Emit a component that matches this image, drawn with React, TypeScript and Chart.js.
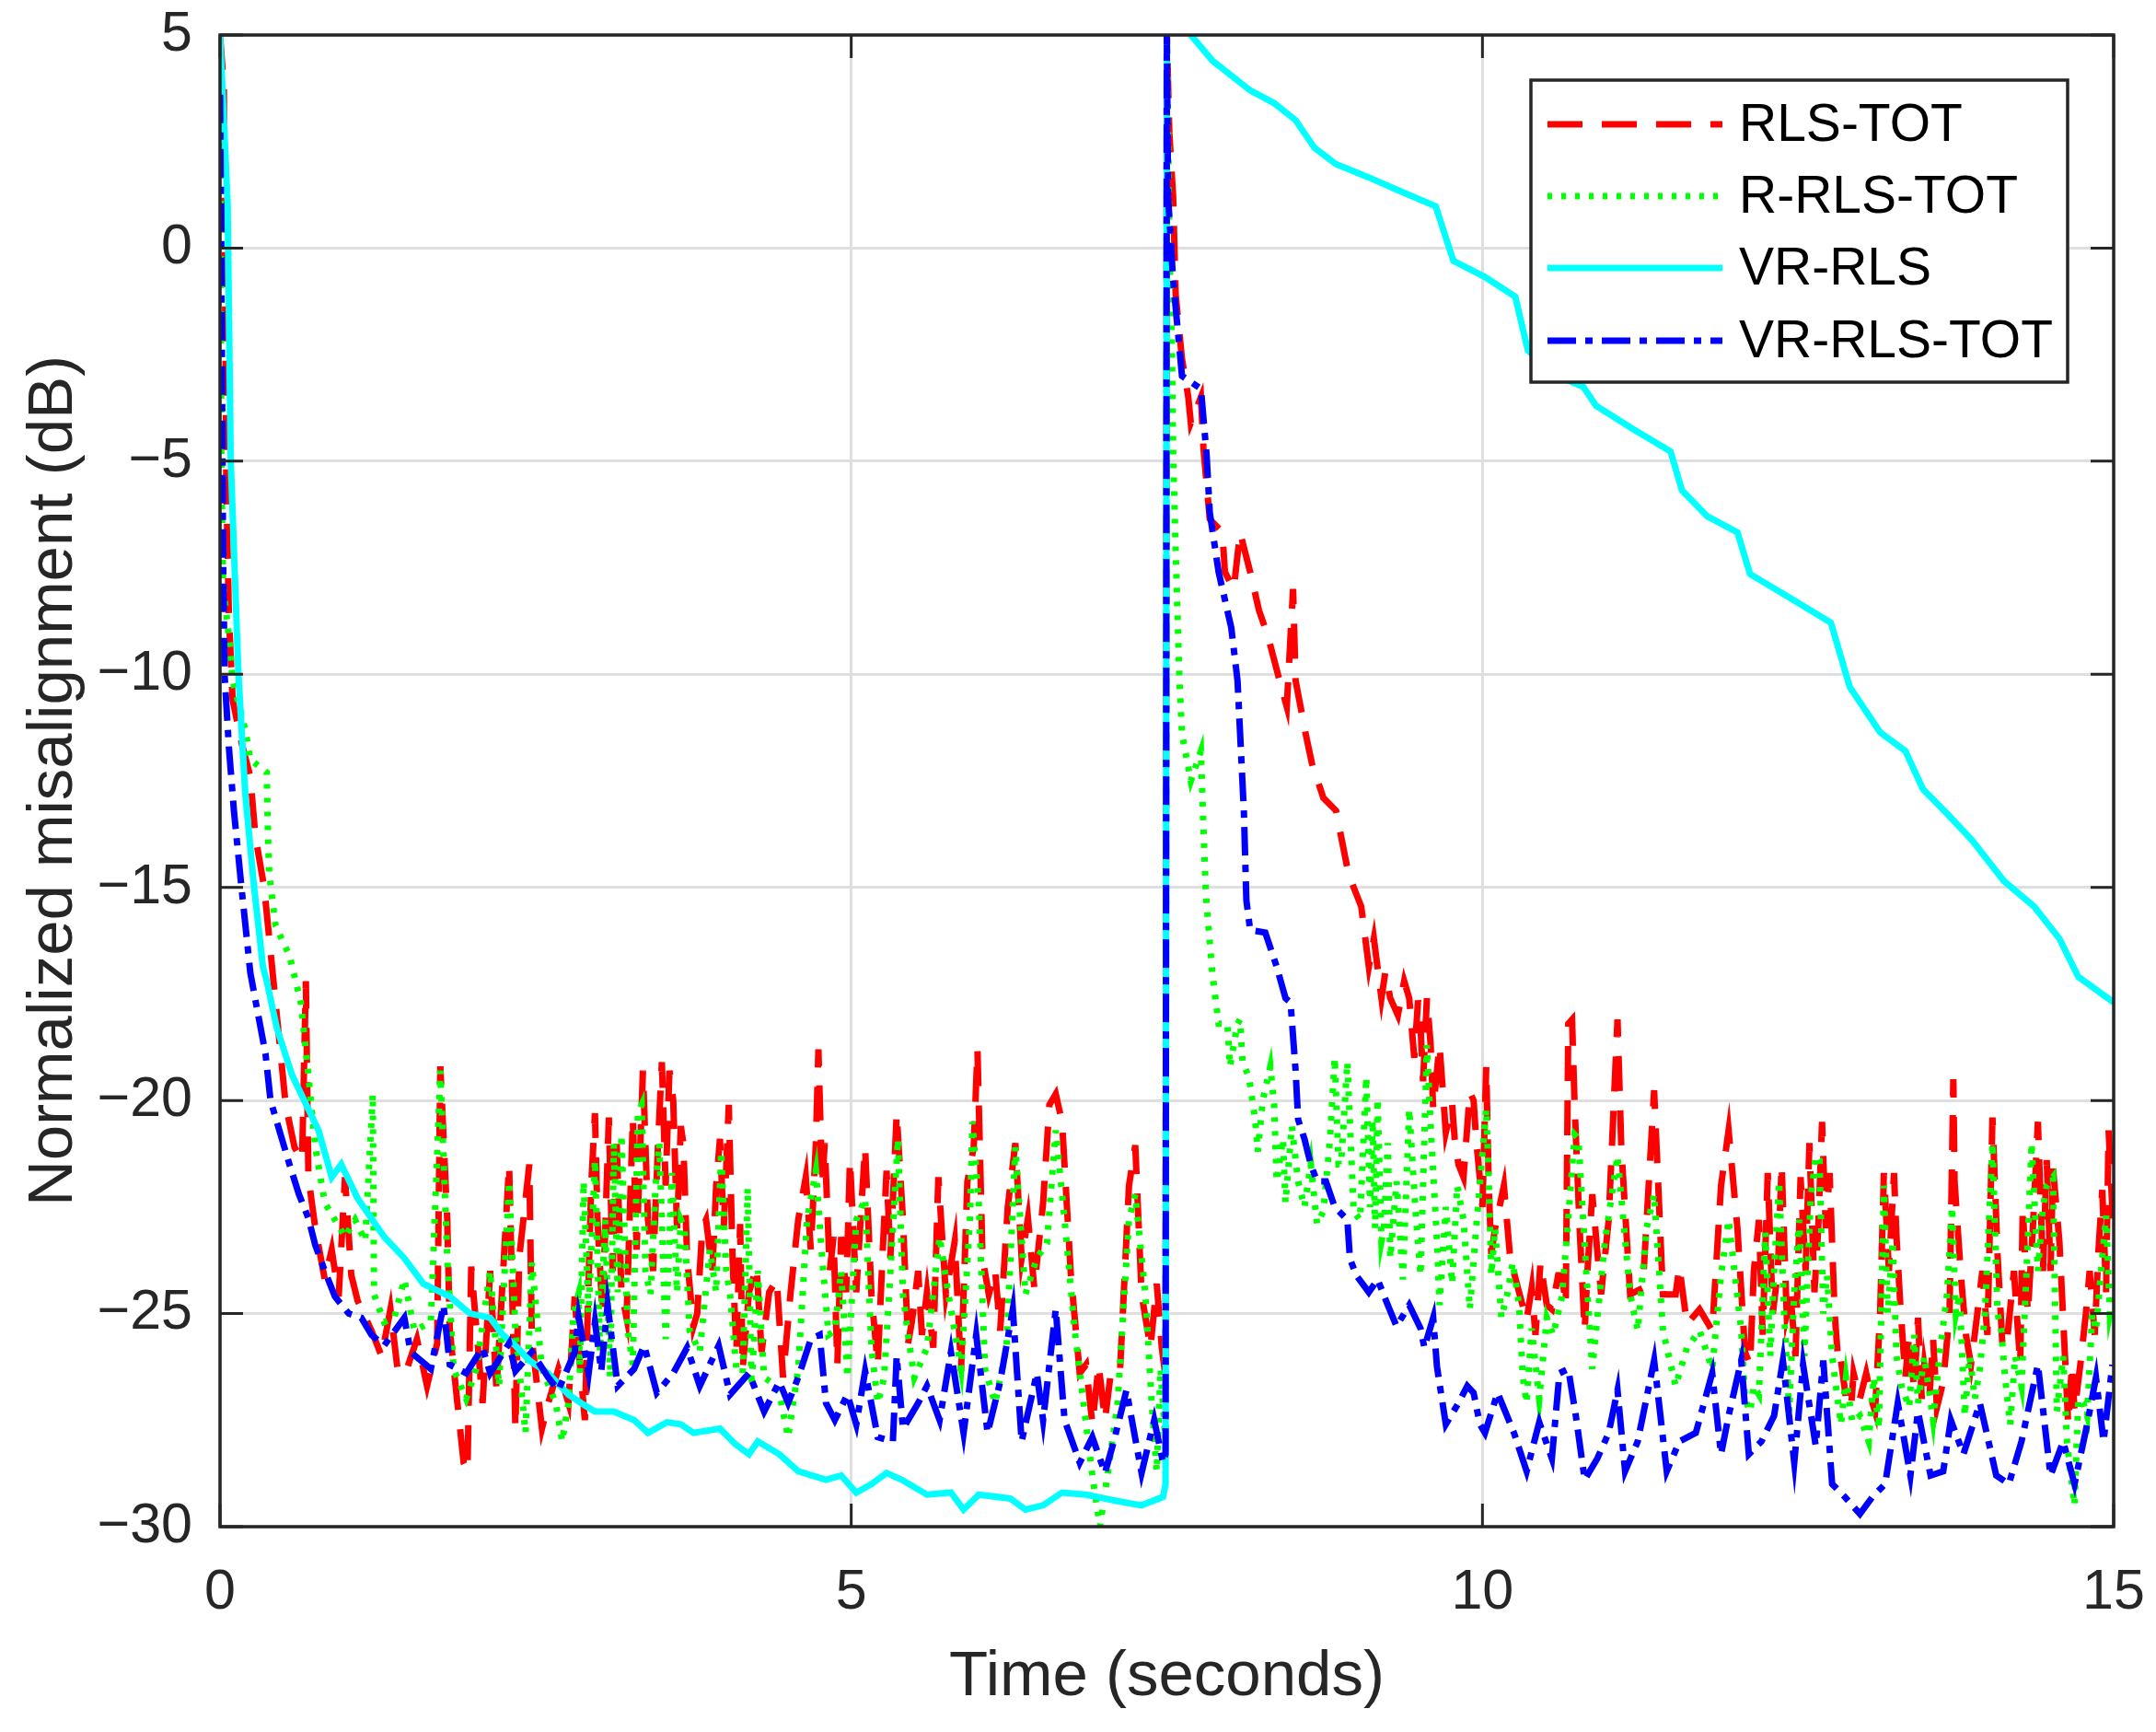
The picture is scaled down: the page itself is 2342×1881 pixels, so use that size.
import { useEffect, useRef } from "react";
import { Chart, registerables } from "chart.js";

Chart.register(...registerables);

// [time (s), misalignment (dB)]
const rlsTot: [number, number][] = [
  [0, 5], [0.03, 3.8], [0.05, -5.6], [0.07, -8.6], [0.1, -10.6], [0.17, -11.6], [0.24, -12.4], [0.28, -13.8], [0.35, -15], [0.4, -16.5],
  [0.45, -18], [0.52, -20.1], [0.59, -21.1], [0.65, -21.4], [0.68, -17.2], [0.7, -21.8], [0.755, -23], [0.83, -24.2], [0.885, -23.5], [0.94, -24.6],
  [0.99, -21.8], [1.04, -24.1], [1.09, -24.7], [1.2, -25.4], [1.28, -26], [1.35, -24.9], [1.41, -26.4], [1.48, -26.3], [1.56, -25.6], [1.64, -26.7],
  [1.72, -25.7], [1.745, -19.2], [1.8, -22.8], [1.82, -25.4], [1.93, -28.5], [1.96, -28.7], [1.99, -23.9], [2.08, -27.1], [2.14, -24], [2.19, -26.8],
  [2.29, -21.5], [2.34, -27.7], [2.37, -23.7], [2.45, -21.5], [2.47, -25.6], [2.55, -27.7], [2.6, -27.1], [2.68, -26.3], [2.76, -27.1],
  [2.81, -24.6], [2.83, -25.5], [2.89, -27.5], [2.94, -22], [2.97, -20.3], [2.99, -22.8], [3.03, -25], [3.08, -20.4], [3.11, -24], [3.14, -20.8],
  [3.18, -24.5], [3.22, -25.1], [3.27, -20.4], [3.3, -23.5], [3.35, -19.3], [3.39, -22.8], [3.43, -24], [3.47, -21], [3.5, -19.1], [3.53, -22],
  [3.56, -19.3], [3.59, -20], [3.62, -23], [3.65, -20.6], [3.67, -21], [3.7, -23.7], [3.75, -25.3], [3.78, -25], [3.82, -23], [3.85, -22.8],
  [3.9, -24], [3.93, -22], [3.96, -20.9], [3.99, -23], [4.03, -20.1], [4.06, -23.7], [4.09, -25.9], [4.12, -22.9], [4.14, -26.3], [4.19, -24.5],
  [4.25, -23.9], [4.29, -25.9], [4.35, -24.5], [4.41, -24.2], [4.46, -26.5], [4.52, -24.5], [4.58, -22.8], [4.64, -21.8], [4.68, -23.5], [4.72, -21],
  [4.74, -18.8], [4.77, -22], [4.79, -21], [4.83, -24], [4.86, -23.2], [4.89, -26.2], [4.92, -23.2], [4.96, -24.5], [4.99, -21.4], [5.04, -24.5],
  [5.08, -22.5], [5.11, -21.1], [5.16, -24.55], [5.21, -26.2], [5.25, -23.5], [5.28, -21.65], [5.31, -23.7], [5.36, -20.3], [5.41, -22.8], [5.45, -25.7],
  [5.48, -25.2], [5.53, -24], [5.56, -25.5], [5.6, -24.5], [5.65, -25.8], [5.69, -21.8], [5.75, -24.55], [5.82, -23.3], [5.87, -26.35], [5.92, -21.9],
  [5.97, -21.1], [6.0, -18.8], [6.04, -23.7], [6.09, -24.55], [6.14, -24], [6.18, -25.4], [6.24, -22.5], [6.3, -21], [6.35, -23.7], [6.4, -22.76],
  [6.45, -24.4], [6.52, -22.4], [6.57, -20.1], [6.62, -19.85], [6.67, -20.5], [6.74, -24.1], [6.81, -26.4], [6.86, -26.2], [6.91, -27.6], [6.96, -26.2],
  [7.01, -27.5], [7.06, -26.3], [7.13, -26.3], [7.2, -22], [7.25, -21.05], [7.3, -24.55], [7.37, -25.8], [7.42, -24.3], [7.46, -25.8], [7.49, -26.5],
  [7.5, 5], [7.52, 2.7], [7.55, 1.2], [7.57, -1.1], [7.62, -2.6], [7.67, -3.5], [7.69, -4.1], [7.77, -3.5], [7.79, -4.7], [7.84, -6.36],
  [7.94, -6.67], [7.96, -7.6], [8.03, -8], [8.08, -6.67], [8.16, -7.6], [8.23, -8.5], [8.3, -9.1], [8.38, -10], [8.45, -10.76], [8.5, -8],
  [8.52, -10.15], [8.6, -11.4], [8.65, -12.1], [8.74, -12.9], [8.84, -13.2], [8.94, -14.7], [9.04, -15.45], [9.1, -16.86], [9.14, -16.2], [9.2, -17.6],
  [9.23, -17], [9.27, -17.6], [9.33, -18], [9.38, -17.2], [9.42, -17.6], [9.46, -19], [9.49, -17.65], [9.51, -18.3], [9.53, -19.55], [9.56, -17.6],
  [9.59, -18.7], [9.61, -20.2], [9.66, -18.7], [9.71, -20.75], [9.76, -20.1], [9.78, -20.9], [9.81, -21.5], [9.85, -21.8], [9.9, -19.8], [9.93, -20],
  [9.95, -20.9], [10.0, -22.5], [10.03, -19.2], [10.05, -22], [10.07, -23.6], [10.1, -23], [10.17, -22], [10.22, -23.7], [10.29, -24.5], [10.35, -25.15],
  [10.39, -24.4], [10.42, -25.5], [10.46, -23.8], [10.51, -24.8], [10.55, -24.9], [10.6, -24.1], [10.63, -24.1], [10.66, -24.8], [10.68, -18.2], [10.71, -18.1],
  [10.73, -20.1], [10.77, -23], [10.81, -25.4], [10.83, -24.1], [10.87, -22.2], [10.94, -24.55], [11.0, -22.8], [11.07, -18.1], [11.1, -21.1], [11.17, -24.55],
  [11.27, -24.4], [11.36, -19.76], [11.43, -24.55], [11.53, -24.55], [11.56, -23.9], [11.62, -25.25], [11.72, -24.9], [11.82, -25.4], [11.89, -22], [11.95, -20.7],
  [12.02, -23], [12.08, -25.9], [12.12, -26.2], [12.15, -24], [12.19, -22.8], [12.22, -25.5], [12.26, -21.7], [12.3, -25], [12.34, -24], [12.37, -21.5],
  [12.41, -25], [12.44, -24.55], [12.48, -26], [12.52, -21.8], [12.56, -24], [12.59, -21], [12.63, -24.5], [12.66, -23], [12.69, -20.5], [12.72, -23],
  [12.75, -21.7], [12.79, -25], [12.82, -26.2], [12.84, -26.1], [12.88, -27], [12.92, -27.2], [12.94, -26.4], [12.99, -27], [13.04, -26.4], [13.09, -27.1],
  [13.11, -27.3], [13.15, -25], [13.18, -21.7], [13.22, -24], [13.26, -21.7], [13.28, -23.2], [13.31, -24.8], [13.35, -26.5], [13.38, -25.5], [13.42, -26.8],
  [13.45, -25.1], [13.48, -27], [13.5, -26.2], [13.54, -27], [13.57, -25.6], [13.6, -27.2], [13.65, -26.6], [13.7, -25], [13.73, -19.5], [13.74, -21.9],
  [13.79, -24.1], [13.83, -25.5], [13.87, -26.2], [13.92, -25], [13.96, -24], [14.0, -25.5], [14.04, -20.4], [14.08, -23.6], [14.12, -25.8], [14.16, -25.5],
  [14.21, -24], [14.26, -26.2], [14.28, -22.5], [14.32, -25], [14.36, -23], [14.4, -20.5], [14.44, -24], [14.47, -21.4], [14.5, -24], [14.52, -21.6],
  [14.57, -23.3], [14.6, -25.1], [14.64, -27.6], [14.67, -26.2], [14.69, -27.3], [14.74, -26.1], [14.78, -25], [14.81, -24], [14.85, -25.5], [14.88, -23.5],
  [14.91, -22.1], [14.94, -24.5], [14.96, -20.7], [15, -23.2],
];

const rRlsTot: [number, number][] = [
  [0, 5], [0.01, -5], [0.024, -7.9], [0.07, -9.1], [0.1, -10.15], [0.2, -11.3], [0.24, -12], [0.37, -12.3], [0.38, -13.8], [0.39, -14.7],
  [0.44, -15.9], [0.55, -16.6], [0.64, -17.7], [0.7, -19.4], [0.755, -21.1], [0.83, -22.4], [0.91, -22.8], [0.99, -23.2], [1.07, -22.8], [1.15, -23.3],
  [1.21, -19.85], [1.22, -24.55], [1.3, -25.2], [1.38, -25.1], [1.46, -24.2], [1.54, -25.4], [1.67, -25.2], [1.745, -19.3], [1.8, -23.7], [1.85, -26.3],
  [1.95, -27], [2.03, -26.3], [2.14, -24], [2.21, -26.7], [2.29, -21.9], [2.34, -25.4], [2.42, -27.8], [2.47, -23.8], [2.55, -26.3], [2.66, -27.1],
  [2.71, -28], [2.76, -27.1], [2.8, -25], [2.84, -24.55], [2.85, -26.4], [2.88, -21.9], [2.92, -25], [2.97, -21.4], [3.01, -25.9], [3.05, -22.8],
  [3.09, -26.5], [3.12, -21], [3.15, -24.5], [3.18, -20.8], [3.23, -25.4], [3.27, -26.2], [3.31, -20.3], [3.34, -20.1], [3.37, -24], [3.41, -24.55],
  [3.45, -22], [3.48, -21], [3.53, -25.6], [3.58, -21.7], [3.62, -24.5], [3.65, -22.8], [3.68, -23], [3.72, -25.4], [3.8, -25.9], [3.88, -23.5],
  [3.93, -24.5], [3.97, -21.2], [4.01, -24], [4.04, -24.55], [4.09, -26.3], [4.14, -26.4], [4.18, -22.05], [4.21, -26.7], [4.26, -24], [4.31, -26.5],
  [4.36, -26.6], [4.43, -26.86], [4.5, -27.9], [4.58, -26.3], [4.65, -22.8], [4.72, -21.65], [4.77, -23.7], [4.82, -25.5], [4.87, -25.4], [4.92, -24],
  [4.97, -26.5], [5.04, -22.8], [5.11, -22.3], [5.16, -25.8], [5.21, -27.1], [5.26, -26.5], [5.3, -24.55], [5.37, -20.9], [5.41, -24.55], [5.45, -25.5],
  [5.5, -26.5], [5.6, -25.8], [5.7, -23.2], [5.77, -24.55], [5.87, -26.3], [5.94, -22.8], [5.96, -20.5], [6.01, -22.4], [6.06, -26.3], [6.14, -27.1],
  [6.23, -25.8], [6.3, -21.1], [6.38, -24.55], [6.47, -23.7], [6.55, -23.35], [6.62, -20.7], [6.69, -22.8], [6.77, -25.4], [6.84, -27.1], [6.91, -28.8],
  [6.97, -30], [7.03, -28.8], [7.11, -27.1], [7.2, -22.8], [7.25, -22.2], [7.33, -24.55], [7.38, -27.1], [7.42, -28.7], [7.45, -26.3], [7.49, -28],
  [7.5, 5], [7.51, 2.7], [7.52, 0], [7.54, -2.3], [7.55, -4.85], [7.57, -7.1], [7.6, -10.15], [7.62, -11.4], [7.69, -12.5], [7.77, -11.8],
  [7.79, -13.6], [7.81, -15.2], [7.86, -17], [7.91, -18.2], [7.98, -18.2], [8.0, -19.2], [8.06, -18.2], [8.08, -18.1], [8.1, -19.1], [8.15, -19.45],
  [8.2, -20.46], [8.22, -21.2], [8.26, -20], [8.32, -19.2], [8.35, -20.1], [8.37, -21.9], [8.42, -20.9], [8.44, -22.4], [8.49, -20.6], [8.54, -21.9],
  [8.59, -22.5], [8.64, -21.5], [8.69, -22.9], [8.74, -22.6], [8.79, -21], [8.83, -19], [8.86, -21.5], [8.88, -21.5], [8.93, -19.1], [8.98, -22.6],
  [9.03, -22.8], [9.08, -19.45], [9.11, -22.5], [9.13, -20.46], [9.15, -23], [9.17, -19.96], [9.2, -23.3], [9.22, -23], [9.25, -21], [9.27, -23.7],
  [9.32, -21.9], [9.37, -24.2], [9.42, -20.2], [9.47, -22.6], [9.51, -24.1], [9.56, -18.7], [9.59, -20.6], [9.64, -23.3], [9.66, -24.8], [9.71, -22.5],
  [9.76, -24.3], [9.8, -22], [9.85, -22.8], [9.9, -24.9], [9.95, -23], [10.03, -20.2], [10.05, -21.9], [10.07, -24.1], [10.1, -23], [10.15, -25.1],
  [10.2, -24.5], [10.24, -23.8], [10.29, -24.8], [10.32, -26.5], [10.35, -27.1], [10.39, -25.35], [10.45, -27], [10.51, -25.1], [10.56, -25.5], [10.63, -24.6],
  [10.68, -22.76], [10.73, -20.8], [10.76, -20.9], [10.78, -21.9], [10.83, -24.4], [10.87, -26.3], [10.97, -23.3], [11.07, -21.3], [11.17, -24.55], [11.23, -25.4],
  [11.3, -23], [11.36, -22.2], [11.43, -25.4], [11.53, -26.7], [11.62, -25.8], [11.72, -25.4], [11.82, -26.3], [11.89, -24.1], [11.95, -22.8], [12.05, -25.4],
  [12.08, -27], [12.12, -27.3], [12.15, -26.7], [12.19, -26.9], [12.24, -23.1], [12.28, -26], [12.31, -24], [12.35, -21.9], [12.39, -25], [12.43, -27.3],
  [12.47, -24.5], [12.51, -22.8], [12.55, -26], [12.6, -22.3], [12.64, -21.3], [12.67, -21.4], [12.7, -25], [12.73, -24.1], [12.77, -26], [12.8, -26.7],
  [12.84, -27.6], [12.88, -26.5], [12.93, -27.55], [12.99, -27.4], [13.06, -28], [13.1, -26.5], [13.14, -27.7], [13.18, -22], [13.21, -25], [13.25, -23.3],
  [13.28, -26], [13.32, -26.7], [13.38, -27.2], [13.42, -25.5], [13.45, -27.1], [13.5, -26], [13.57, -27.5], [13.62, -26], [13.68, -24.55], [13.72, -22.5],
  [13.75, -25], [13.78, -24.55], [13.82, -27.4], [13.86, -26], [13.9, -27], [13.94, -26.3], [13.98, -25], [14.04, -21], [14.08, -25], [14.11, -25.4],
  [14.14, -26.5], [14.18, -27.6], [14.22, -26], [14.27, -26.7], [14.31, -24], [14.35, -21], [14.4, -24], [14.44, -22.5], [14.47, -22], [14.52, -21.8],
  [14.55, -27.3], [14.6, -26], [14.63, -28], [14.69, -29.5], [14.72, -27], [14.76, -27.1], [14.79, -27.4], [14.83, -25], [14.86, -25.4], [14.9, -24],
  [14.94, -22.7], [14.97, -25], [15, -24.55],
];

const vrRls: [number, number][] = [
  [0, 5], [0.06, 1.06], [0.085, -5], [0.146, -10], [0.2, -12.8], [0.27, -15], [0.34, -16.86], [0.37, -17.2], [0.45, -18.3], [0.57, -19.4],
  [0.78, -20.7], [0.885, -21.8], [0.96, -21.5], [1.09, -22.3], [1.3, -23.2], [1.46, -23.7], [1.61, -24.3], [1.82, -24.6], [1.98, -25], [2.14, -25.1],
  [2.24, -25.5], [2.34, -25.75], [2.45, -26.1], [2.6, -26.4], [2.76, -26.9], [2.86, -27.1], [2.97, -27.3], [3.12, -27.3], [3.28, -27.5], [3.39, -27.8],
  [3.54, -27.55], [3.65, -27.6], [3.75, -27.8], [3.96, -27.7], [4.08, -28.06], [4.19, -28.3], [4.26, -28], [4.43, -28.3], [4.58, -28.7], [4.8, -28.9],
  [4.92, -28.8], [5.04, -29.2], [5.16, -29], [5.28, -28.74], [5.4, -28.9], [5.6, -29.25], [5.79, -29.2], [5.89, -29.6], [6.01, -29.25], [6.26, -29.34],
  [6.38, -29.6], [6.52, -29.5], [6.67, -29.2], [6.86, -29.25], [7.11, -29.4], [7.3, -29.5], [7.47, -29.3], [7.49, -29],
  [7.5, 6.5], [7.62, 5.4], [7.69, 5], [7.86, 4.4], [8.16, 3.7], [8.35, 3.4], [8.52, 3], [8.67, 2.35], [8.84, 1.97], [9.09, 1.67],
  [9.33, 1.36], [9.63, 0.98], [9.77, -0.3], [10.02, -0.68], [10.26, -1.14], [10.36, -2.4], [10.56, -2.95], [10.8, -3.26], [10.9, -3.7], [11.19, -4.24],
  [11.49, -4.77], [11.58, -5.68], [11.78, -6.29], [12.02, -6.67], [12.12, -7.65], [12.42, -8.18], [12.76, -8.79], [12.91, -10.3], [13.15, -11.36], [13.35, -11.8],
  [13.49, -12.7], [13.69, -13.3], [13.88, -13.9], [14.13, -14.85], [14.37, -15.45], [14.57, -16.2], [14.72, -17.1], [15, -17.7],
];

const vrRlsTot: [number, number][] = [
  [0, 3.6], [0.01, 0], [0.024, -7.1], [0.036, -10], [0.07, -11.7], [0.11, -13.2], [0.17, -15], [0.24, -17], [0.29, -17.8], [0.36, -18.9],
  [0.4, -20], [0.48, -20.8], [0.55, -21.5], [0.625, -22.2], [0.7, -22.76], [0.755, -23.4], [0.83, -24], [0.91, -24.6], [1.02, -25], [1.12, -25.1],
  [1.2, -25.5], [1.3, -25.75], [1.46, -25.1], [1.51, -25.9], [1.67, -26.3], [1.77, -24.8], [1.82, -26.2], [1.95, -26.4], [2.08, -25.8], [2.14, -26.4],
  [2.29, -25.7], [2.34, -26.35], [2.47, -25.9], [2.6, -26.5], [2.68, -26.8], [2.81, -25.9], [2.84, -25.07], [2.92, -26.4], [2.97, -25.2], [3.02, -26.35],
  [3.07, -24.8], [3.15, -26.7], [3.28, -26.3], [3.36, -25.75], [3.46, -26.86], [3.59, -26.4], [3.7, -25.8], [3.8, -26.7], [3.95, -25.75], [4.04, -26.9],
  [4.19, -26.4], [4.31, -27.3], [4.43, -26.6], [4.5, -27.1], [4.58, -26.5], [4.68, -25.6], [4.75, -25.5], [4.8, -27.1], [4.87, -27.5], [4.97, -26.9],
  [5.04, -27.6], [5.11, -26.35], [5.21, -27.9], [5.33, -28], [5.36, -26], [5.41, -27.7], [5.53, -27.1], [5.6, -26.7], [5.7, -27.5], [5.79, -25.9],
  [5.89, -27.8], [5.99, -25.5], [6.08, -27.8], [6.18, -26.6], [6.28, -24.9], [6.35, -28], [6.47, -26.4], [6.52, -27.5], [6.62, -24.9], [6.69, -27.5],
  [6.81, -28.5], [6.91, -27.9], [7.01, -28.74], [7.08, -28], [7.18, -26.8], [7.3, -28.74], [7.4, -27.5], [7.47, -28.5], [7.49, -28.3],
  [7.5, 5], [7.51, 1.2], [7.55, -0.76], [7.62, -3], [7.77, -3.3], [7.815, -4.85], [7.84, -6.2], [7.91, -7.6], [8.01, -8.9], [8.06, -10.15],
  [8.11, -13.2], [8.13, -15.3], [8.16, -16], [8.28, -16.06], [8.37, -16.86], [8.44, -17.6], [8.48, -17.7], [8.52, -19.3], [8.54, -20.45], [8.59, -20.9],
  [8.64, -21.5], [8.69, -21.9], [8.76, -21.9], [8.83, -22.5], [8.93, -22.8], [8.95, -23.7], [9.0, -24.1], [9.1, -24.5], [9.17, -24.2], [9.25, -24.8],
  [9.32, -25.3], [9.42, -24.8], [9.51, -25.35], [9.54, -25.8], [9.61, -25.1], [9.64, -26.25], [9.71, -27.6],
  [9.81, -27.1], [9.88, -26.7], [9.93, -26.86], [9.98, -27.6], [10.02, -27.8], [10.12, -26.86], [10.25, -27.8], [10.35, -28.7], [10.45, -27.55], [10.55, -28.4],
  [10.61, -26.4], [10.68, -26.3], [10.74, -27.4], [10.81, -28.9], [10.91, -28.4], [11.0, -27.8], [11.07, -26.8], [11.13, -28.7], [11.23, -28], [11.36, -26.1],
  [11.46, -28.7], [11.56, -28], [11.69, -27.8], [11.82, -26.4], [11.89, -28.3], [11.95, -27.4], [12.05, -26.1], [12.11, -28.3], [12.21, -28], [12.31, -27.4],
  [12.38, -26.1], [12.47, -28.5], [12.54, -26.2], [12.64, -28.1], [12.7, -26.1], [12.77, -29], [12.87, -29.3], [12.99, -29.7], [13.09, -29.3], [13.19, -29],
  [13.29, -27.1], [13.39, -28.8], [13.45, -27.3], [13.55, -28.8], [13.65, -28.7], [13.71, -27.5], [13.81, -28.3], [13.94, -27.1], [14.07, -28.8], [14.17, -29],
  [14.27, -28], [14.4, -26.2], [14.5, -28.8], [14.6, -28], [14.69, -29], [14.79, -27.6], [14.86, -26.5], [14.92, -28], [14.99, -26.2],
];

const xTicks = [0, 5, 10, 15];
const yTicks = [-30, -25, -20, -15, -10, -5, 0, 5];

const FONT = "'Liberation Sans', Arial, Helvetica, sans-serif";
const AXIS = "#262626";

const series = [
  { label: "RLS-TOT", data: rlsTot, color: "#ff0000", dash: [38, 21] },
  { label: "R-RLS-TOT", data: rRlsTot, color: "#00ff00", dash: [5, 10] },
  { label: "VR-RLS", data: vrRls, color: "#00ffff", dash: [] as number[] },
  { label: "VR-RLS-TOT", data: vrRlsTot, color: "#0000ff", dash: [31, 10, 8, 10] },
];

const fmt = (v: number) => (v < 0 ? "\u2212" + Math.abs(v) : String(v));

const matlabBox = {
  id: "matlabBox",
  afterDatasetsDraw(chart: any) {
    const { ctx, chartArea: a, scales } = chart;
    ctx.save();
    ctx.strokeStyle = AXIS;
    ctx.lineWidth = 3;
    ctx.beginPath();
    const tl = 25;
    xTicks.forEach((t) => {
      const px = scales.x.getPixelForValue(t);
      ctx.moveTo(px, a.bottom);
      ctx.lineTo(px, a.bottom - tl);
      ctx.moveTo(px, a.top);
      ctx.lineTo(px, a.top + tl);
    });
    yTicks.forEach((t) => {
      const py = scales.y.getPixelForValue(t);
      ctx.moveTo(a.left, py);
      ctx.lineTo(a.left + tl, py);
      ctx.moveTo(a.right, py);
      ctx.lineTo(a.right - tl, py);
    });
    ctx.stroke();
    ctx.lineWidth = 3.5;
    ctx.strokeRect(a.left, a.top, a.right - a.left, a.bottom - a.top);
    ctx.restore();
  },
  afterDraw(chart: any) {
    const { ctx } = chart;
    const bx = 1663, by = 87, bw = 583, bh = 328;
    ctx.save();
    ctx.fillStyle = "#ffffff";
    ctx.fillRect(bx, by, bw, bh);
    ctx.strokeStyle = AXIS;
    ctx.lineWidth = 3.5;
    ctx.strokeRect(bx, by, bw, bh);
    const rows = [135, 213, 291, 370];
    series.forEach((s, i) => {
      ctx.strokeStyle = s.color;
      ctx.lineWidth = 7;
      ctx.setLineDash(s.dash);
      ctx.beginPath();
      ctx.moveTo(1681, rows[i]);
      ctx.lineTo(1871, rows[i]);
      ctx.stroke();
      ctx.setLineDash([]);
      ctx.fillStyle = "#000000";
      ctx.font = `57px ${FONT}`;
      ctx.textBaseline = "middle";
      ctx.textAlign = "left";
      ctx.fillText(s.label, 1889, rows[i] + 2);
    });
    ctx.restore();
  },
};

export default function App() {
  const canvasRef = useRef<HTMLCanvasElement | null>(null);

  useEffect(() => {
    if (!canvasRef.current) return;
    const chart = new Chart(canvasRef.current, {
      type: "line",
      data: {
        datasets: series.map((s, i) => ({
          label: s.label,
          data: s.data.map(([x, y]) => ({ x, y })),
          borderColor: s.color,
          backgroundColor: s.color,
          borderWidth: 7,
          borderDash: s.dash,
          pointRadius: 0,
          tension: 0,
          fill: false,
          order: 4 - i,
        })),
      },
      options: {
        animation: false,
        responsive: false,
        devicePixelRatio: 1,
        layout: { padding: { left: 0, top: 38, right: 46, bottom: 0 } },
        plugins: { legend: { display: false }, tooltip: { enabled: false } },
        scales: {
          x: {
            type: "linear",
            min: 0,
            max: 15,
            afterFit: (s: any) => {
              s.height = 223;
              s.paddingLeft = 0;
              s.paddingRight = 0;
            },
            afterBuildTicks: (s: any) => {
              s.ticks = xTicks.map((v) => ({ value: v }));
            },
            ticks: {
              font: { family: FONT, size: 61 },
              color: AXIS,
              padding: 36,
              maxRotation: 0,
              autoSkip: false,
              callback: (v: any) => fmt(Number(v)),
            },
            grid: { color: "#dfdfdf", lineWidth: 3, drawTicks: false },
            border: { display: false },
            title: {
              display: true,
              text: "Time (seconds)",
              font: { family: FONT, size: 69 },
              color: AXIS,
              padding: { top: 0, bottom: 18 },
            },
          },
          y: {
            type: "linear",
            min: -30,
            max: 5,
            afterFit: (s: any) => {
              s.width = 239;
              s.paddingTop = 0;
              s.paddingBottom = 0;
            },
            afterBuildTicks: (s: any) => {
              s.ticks = yTicks.map((v) => ({ value: v }));
            },
            ticks: {
              font: { family: FONT, size: 61 },
              color: AXIS,
              padding: 30,
              autoSkip: false,
              callback: (v: any) => fmt(Number(v)),
            },
            grid: { color: "#dfdfdf", lineWidth: 3, drawTicks: false },
            border: { display: false },
            title: {
              display: true,
              text: "Normalized misalignment (dB)",
              font: { family: FONT, size: 69 },
              color: AXIS,
              padding: { top: 18, bottom: 0 },
            },
          },
        },
      },
      plugins: [matlabBox],
    });
    return () => chart.destroy();
  }, []);

  return (
    <div style={{ position: "fixed", left: 0, top: 0, width: 2342, height: 1881, background: "#ffffff" }}>
      <canvas ref={canvasRef} width={2342} height={1881} style={{ width: 2342, height: 1881 }} />
    </div>
  );
}
